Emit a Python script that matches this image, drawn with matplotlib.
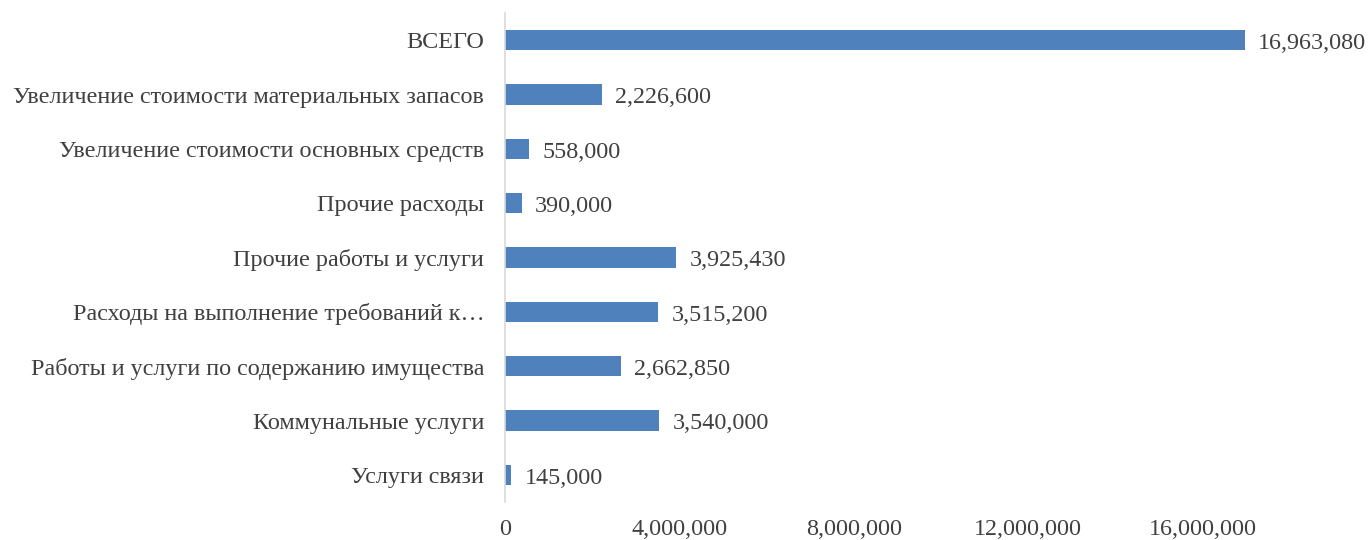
import matplotlib
matplotlib.use("Agg")
import matplotlib.pyplot as plt
from matplotlib.ticker import FuncFormatter

categories = [
    "Услуги связи",
    "Коммунальные услуги",
    "Работы и услуги по содержанию имущества",
    "Расходы на выполнение требований к…",
    "Прочие работы и услуги",
    "Прочие расходы",
    "Увеличение стоимости основных средств",
    "Увеличение стоимости материальных запасов",
    "ВСЕГО",
]
values = [145000, 3540000, 2662850, 3515200, 3925430, 390000, 558000, 2226600, 16963080]
xticks = [0, 4000000, 8000000, 12000000, 16000000]

plt.rcParams['font.family'] = ['Liberation Serif', 'DejaVu Serif']
text_color = '#404040'
fs = 17.4

fig = plt.figure(figsize=(13.7, 5.4), dpi=100)
ax = fig.add_axes([505/1370, 1-502/540, (1290-505)/1370, (502-13)/540])

y = list(range(len(categories)))
ax.barh(y, values, height=0.37, color='#4F81BD')
ax.set_xlim(0, 18000000)
ax.set_ylim(-0.5, len(categories)-0.5)

for yi, v in zip(y, values):
    ax.annotate(f"{v:,}", xy=(v, yi), xytext=(9.5, -2.5), textcoords='offset points',
                va='center', ha='left', fontsize=fs, color=text_color)

ax.set_yticks(y)
ax.set_yticklabels(categories, fontsize=fs, color=text_color)
ax.set_xticks(xticks)
ax.xaxis.set_major_formatter(FuncFormatter(lambda v, p: f"{int(v):,}"))
ax.tick_params(axis='x', labelsize=fs, colors=text_color, length=0, pad=12)
ax.tick_params(axis='y', length=0, pad=15)
for s in ['top', 'right', 'bottom']:
    ax.spines[s].set_visible(False)
ax.spines['left'].set_color('#D9D9D9')
ax.spines['left'].set_linewidth(1.2)

fig.savefig("out.png", dpi=100)
